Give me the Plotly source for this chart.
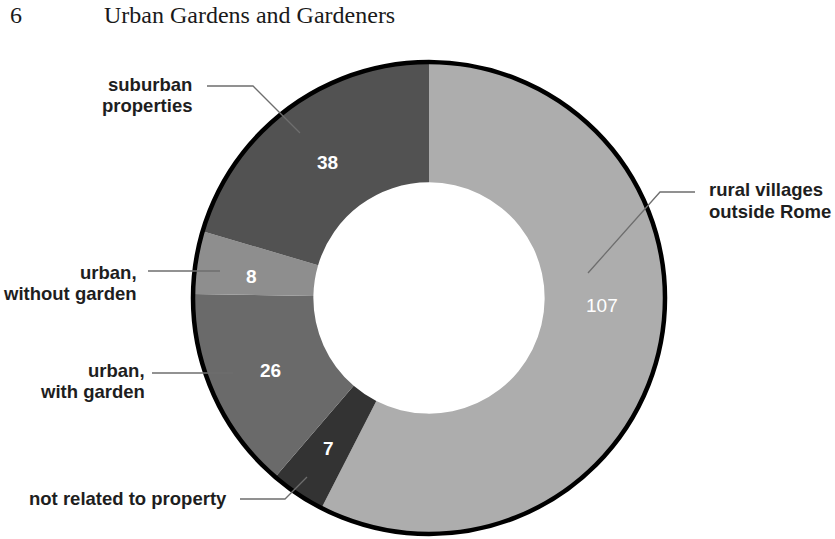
import plotly.graph_objects as go

# ---- data ----
categories = ["rural villages\noutside Rome", "not related to property",
              "urban,\nwith garden", "urban,\nwithout garden", "suburban\nproperties"]
values = [107, 7, 26, 8, 38]
colors = ["#adadad", "#333333", "#6a6a6a", "#8e8e8e", "#525252"]
page_number = "6"
running_head = "Urban Gardens and Gardeners"

# ---- geometry (pixels) ----
W, H = 835, 539
CX, CY, R = 429, 298, 236


def px(x):
    return x / W


def py(y):
    return 1 - y / H


fig = go.Figure(go.Pie(
    labels=[c.replace("\n", " ") for c in categories],
    values=values,
    sort=False,
    direction="clockwise",
    rotation=0,
    hole=0.49,
    marker=dict(colors=colors, line=dict(width=0)),
    textinfo="none",
    hoverinfo="label+value",
    domain=dict(x=[px(CX - R), px(CX + R)], y=[py(CY + R), py(CY - R)]),
    showlegend=False,
))

shapes = [dict(type="circle", xref="paper", yref="paper",
               x0=px(CX - R), x1=px(CX + R), y0=py(CY + R), y1=py(CY - R),
               line=dict(color="black", width=4.5), layer="above")]

# leader lines (pixel polylines)
leaders = [
    [(588, 273), (660, 192), (695, 192)],
    [(240, 499), (285, 499), (307, 477)],
    [(152, 373), (233, 373)],
    [(148, 271), (220, 271)],
    [(207, 86), (253, 86), (300, 133)],
]
for pts in leaders:
    path = "M " + " L ".join(f"{px(x)},{py(y)}" for x, y in pts)
    shapes.append(dict(type="path", xref="paper", yref="paper", path=path,
                       line=dict(color="#6e6e6e", width=1.3), layer="above"))

annotations = []
# value labels
value_pos = [(602, 305), (328, 448), (270, 370), (252, 276), (327, 162)]
value_bold = [False, True, True, True, True]
for v, (x, y), b in zip(values, value_pos, value_bold):
    t = f"<b>{v}</b>" if b else str(v)
    annotations.append(dict(x=px(x), y=py(y), xref="paper", yref="paper", text=t,
                            showarrow=False, xanchor="center", yanchor="middle",
                            font=dict(family="Liberation Sans, Arial, sans-serif",
                                      size=19, color="white")))

# category labels: (anchor x, first line y, xanchor)
label_pos = [(707, 190, "left"), (27, 498, "left"), (147, 370, "right"),
             (139, 272, "right"), (194, 85, "right")]
LINE = 21
for cat, (x, y, xa) in zip(categories, label_pos):
    for i, line in enumerate(cat.split("\n")):
        annotations.append(dict(x=px(x), y=py(y + i * LINE), xref="paper", yref="paper",
                                text=f"<b>{line}</b>", showarrow=False,
                                xanchor=xa, yanchor="middle",
                                font=dict(family="Liberation Sans, Arial, sans-serif",
                                          size=18.5, color="#1e1e1e")))

# running head
annotations.append(dict(x=px(8), y=py(15), xref="paper", yref="paper", text=page_number,
                        showarrow=False, xanchor="left", yanchor="middle",
                        font=dict(family="Liberation Serif, Times New Roman, serif",
                                  size=24, color="#1a1a1a")))
annotations.append(dict(x=px(102), y=py(15), xref="paper", yref="paper", text=running_head,
                        showarrow=False, xanchor="left", yanchor="middle",
                        font=dict(family="Liberation Serif, Times New Roman, serif",
                                  size=24, color="#1a1a1a")))

fig.update_layout(
    width=W, height=H,
    margin=dict(l=0, r=0, t=0, b=0),
    paper_bgcolor="white", plot_bgcolor="white",
    shapes=shapes, annotations=annotations,
)

fig.write_html("out.html",
               config={"displayModeBar": False},
               post_script="document.body.style.margin='0px';document.body.style.overflow='hidden';")
